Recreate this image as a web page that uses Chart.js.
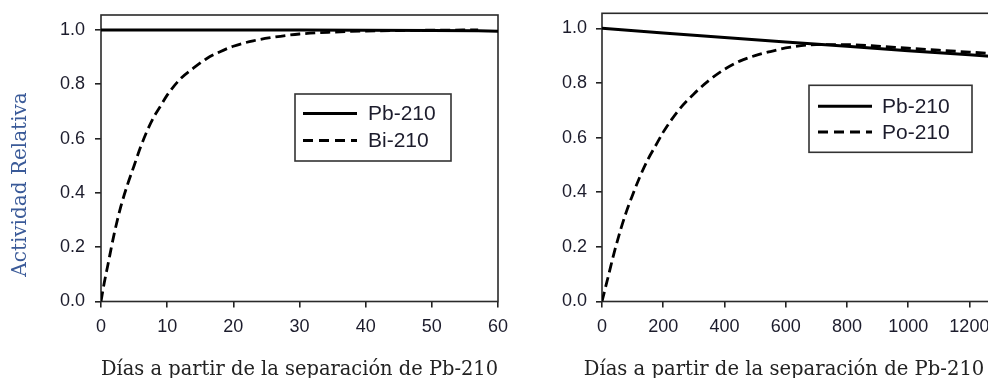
<!DOCTYPE html>
<html><head><meta charset="utf-8">
<script src="https://cdn.jsdelivr.net/npm/chart.js@4.4.1/dist/chart.umd.min.js"></script>
<style>
html,body{margin:0;padding:0;background:#fff;overflow:hidden;width:988px;height:378px;}
#wrap{position:relative;width:988px;height:378px;overflow:hidden;}
#c1{position:absolute;left:0;top:0;}
#c2{position:absolute;left:515px;top:0;}
</style></head><body>
<div id="wrap"><canvas id="c1" width="520" height="382"></canvas><canvas id="c2" width="500" height="382"></canvas></div>
<script>
// ---- texts ----
const yTitle = 'Actividad Relativa';
const xTitle = 'Días a partir de la separación de Pb-210';
const yTickValues = [0, 0.2, 0.4, 0.6, 0.8, 1.0];

// ---- left panel: Pb-210 / Bi-210 ----
const leftLabels = ['Pb-210', 'Bi-210'];
const leftXTicks = [0, 10, 20, 30, 40, 50, 60];
const pbDaysA = [0, 10, 20, 30, 40, 50, 57, 60];
const pbValuesA = [1.0, 1.0, 1.0, 1.0, 0.999, 0.998, 0.997, 0.995];
const biDays = [0, 0.5, 1, 2, 3, 4, 5, 6, 7, 8, 9, 10, 12, 14, 16, 18, 20, 23, 26, 30, 35, 40, 45, 50, 57];
const biValues = [0, 0.07, 0.13, 0.25, 0.35, 0.43, 0.50, 0.57, 0.63, 0.68, 0.72, 0.76, 0.82, 0.86, 0.895, 0.92, 0.94, 0.96, 0.973, 0.985, 0.992, 0.996, 0.998, 0.999, 1.0];

// ---- right panel: Pb-210 / Po-210 ----
const rightLabels = ['Pb-210', 'Po-210'];
const rightXTicks = [0, 200, 400, 600, 800, 1000, 1200];
const pbDaysB = [0, 200, 400, 600, 800, 1000, 1200, 1300];
const pbValuesB = [1.0, 0.983, 0.966, 0.95, 0.934, 0.918, 0.903, 0.895];
const poDays = [0, 20, 40, 60, 80, 100, 125, 150, 175, 200, 250, 300, 350, 400, 450, 500, 550, 600, 700, 800, 900, 1000, 1100, 1200, 1300];
const poValues = [0, 0.09, 0.18, 0.26, 0.33, 0.39, 0.46, 0.52, 0.57, 0.62, 0.70, 0.76, 0.81, 0.85, 0.88, 0.90, 0.915, 0.928, 0.94, 0.94, 0.935, 0.927, 0.92, 0.913, 0.906];

const pts = (xs, ys) => xs.map((x, i) => ({x: x, y: ys[i]}));

const frame = {
  id: 'frame',
  beforeDatasetsDraw(chart) {
    const {ctx, chartArea: a} = chart;
    ctx.save();
    ctx.lineWidth = 1.6; ctx.strokeStyle = '#2a2a2a';
    ctx.strokeRect(a.left, a.top, a.right - a.left, a.bottom - a.top);
    ctx.restore();
  }
};

const boxLegend = {
  id: 'boxLegend',
  afterDraw(chart, args, o) {
    if (!o || o.w === undefined) return;
    const {ctx, chartArea} = chart;
    const x = chartArea.left + o.dx, y = chartArea.top + o.dy;
    ctx.save();
    ctx.fillStyle = '#fff';
    ctx.fillRect(x, y, o.w, o.h);
    ctx.lineWidth = 1.6; ctx.strokeStyle = '#333';
    ctx.strokeRect(x, y, o.w, o.h);
    ctx.font = o.font; ctx.fillStyle = '#1c1c2c'; ctx.textBaseline = 'middle'; ctx.textAlign = 'left';
    chart.data.datasets.forEach((ds, i) => {
      const ry = y + o.row0 + i * o.rowGap;
      ctx.beginPath();
      ctx.setLineDash(ds.borderDash && ds.borderDash.length ? [10, 6] : []);
      ctx.lineWidth = ds.borderWidth; ctx.strokeStyle = ds.borderColor;
      ctx.moveTo(x + o.lx0, ry); ctx.lineTo(x + o.lx1, ry); ctx.stroke();
      ctx.setLineDash([]);
      ctx.fillText(ds.label, x + o.tx, ry + 1);
    });
    ctx.restore();
  }
};

// free-standing titles (figure y title, right-panel x title)
const textPlugin = {
  id: 'textPlugin',
  afterDraw(chart, args, o) {
    if (!o || !o.items) return;
    const ctx = chart.ctx;
    o.items.forEach(it => {
      ctx.save();
      ctx.translate(it.x, it.y);
      ctx.rotate(it.rot || 0);
      ctx.font = it.font; ctx.fillStyle = it.color;
      ctx.textAlign = 'center'; ctx.textBaseline = 'alphabetic';
      ctx.fillText(it.text, 0, 0);
      ctx.restore();
    });
  }
};

function makeChart(id, cfg) {
  return new Chart(document.getElementById(id), {
    type: 'line',
    data: {
      datasets: [
        {label: cfg.labels[0], data: pts(cfg.pbX, cfg.pbY), borderColor: '#000', borderWidth: 3, pointRadius: 0, fill: false, tension: 0},
        {label: cfg.labels[1], data: pts(cfg.dX, cfg.dY), borderColor: '#000', borderWidth: 2.8, borderDash: [10, 5], pointRadius: 0, fill: false, cubicInterpolationMode: 'monotone'}
      ]
    },
    options: {
      responsive: false, animation: false, events: [],
      layout: {padding: {left: 0, right: cfg.padRight, top: cfg.padTop, bottom: 0}},
      plugins: {
        legend: {display: false}, tooltip: {enabled: false},
        boxLegend: cfg.legend,
        textPlugin: {items: cfg.texts || []}
      },
      scales: {
        x: {
          type: 'linear', min: 0, max: cfg.xMax,
          afterBuildTicks: s => { s.ticks = cfg.xTicks.map(v => ({value: v})); },
          afterFit: s => { s.height = 80.5; s.paddingLeft = 0; s.paddingRight = 0; },
          grid: {display: true, drawOnChartArea: false, drawTicks: true, tickLength: 6, color: '#222', lineWidth: 1.6},
          border: {display: false},
          ticks: {font: {family: 'Liberation Sans, Arial', size: 18}, color: '#1c1c2c', padding: 9, maxRotation: 0, autoSkip: false, callback: v => String(v)},
          title: {display: cfg.xTitleOnAxis, text: xTitle, font: {family: 'DejaVu Serif', size: 19.6}, color: '#222', padding: {top: 0, bottom: 0}}
        },
        y: {
          type: 'linear', min: 0, max: 1.055,
          afterBuildTicks: s => { s.ticks = yTickValues.map(v => ({value: v})); },
          afterFit: s => { s.width = cfg.yWidth; s.paddingTop = 0; s.paddingBottom = 0; },
          grid: {display: true, drawOnChartArea: false, drawTicks: true, tickLength: 6, color: '#222', lineWidth: 1.6},
          border: {display: false},
          ticks: {font: {family: 'Liberation Sans, Arial', size: 18}, color: '#1c1c2c', padding: cfg.yPad, callback: v => Number(v).toFixed(1)}
        }
      }
    },
    plugins: [frame, boxLegend, textPlugin]
  });
}

makeChart('c1', {
  labels: leftLabels, pbX: pbDaysA, pbY: pbValuesA, dX: biDays, dY: biValues,
  xMax: 60, xTicks: leftXTicks, yWidth: 101, yPad: 10, padTop: 15, padRight: 22, xTitleOnAxis: true,
  legend: {dx: 194, dy: 79, w: 156, h: 67, row0: 19.5, rowGap: 27, lx0: 8, lx1: 62, tx: 73, font: '21px "Liberation Sans", Arial'},
  texts: [{text: yTitle, x: 26, y: 184.5, rot: -Math.PI / 2, font: '20px "DejaVu Serif"', color: '#3a5a98'}]
});

makeChart('c2', {
  labels: rightLabels, pbX: pbDaysB, pbY: pbValuesB, dX: poDays, dY: poValues,
  xMax: 1300, xTicks: rightXTicks, yWidth: 87, yPad: 9, padTop: 13.3, padRight: 15, xTitleOnAxis: false,
  legend: {dx: 207, dy: 72, w: 163, h: 67, row0: 21, rowGap: 25.7, lx0: 9, lx1: 63, tx: 73, font: '21px "Liberation Sans", Arial'},
  texts: [{text: xTitle, x: 269, y: 375, font: '19.6px "DejaVu Serif"', color: '#222'}]
});
</script>
</body></html>
